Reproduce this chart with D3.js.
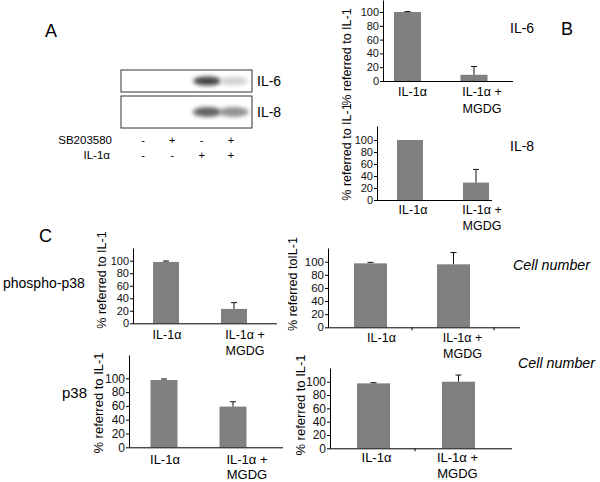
<!DOCTYPE html>
<html>
<head>
<meta charset="utf-8">
<script src="https://cdn.jsdelivr.net/npm/d3@7"></script>
<style>
  body { margin: 0; background: #fff; }
  svg { display: block; font-family: Arial, "Liberation Sans", sans-serif; }
  .axis path, .axis line { stroke: #000; }
  .axis text { font-size: 11px; fill: #111; }
</style>
</head>
<body>
<div id="fig"></div>
<script>
// ---- data ----
var lanes = ["1", "2", "3", "4"];
var sbSigns = ["-", "+", "-", "+"];
var ilSigns = ["-", "-", "+", "+"];
var il6Bands = [0, 0, 0.85, 0.2];
var il8Bands = [0, 0, 0.7, 0.5];

var groups = ["IL-1α", "IL-1α +\nMGDG"];
var yTicks = [0, 20, 40, 60, 80, 100];

var il6Mean = [100, 9];
var il6Err = [0.6, 12];
var il8Mean = [100, 29];
var il8Err = [0, 22];
var pp38Mean = [98, 23];
var pp38Err = [1.5, 10];
var pp38CellMean = [97.5, 96];
var pp38CellErr = [1.5, 18];
var p38Mean = [97.5, 59];
var p38Err = [1.5, 7];
var p38CellMean = [97.5, 100];
var p38CellErr = [1, 10];

var svg = d3.select("#fig").append("svg")
  .attr("width", 600)
  .attr("height", 482);

// blur for the blot bands
svg.append("defs").append("filter")
  .attr("id", "blur")
  .attr("x", "-50%").attr("y", "-50%").attr("width", "200%").attr("height", "200%")
  .append("feGaussianBlur")
  .attr("stdDeviation", 2.2);

// ---- panel A: blot ----
var lane = d3.scalePoint().domain(lanes).range([143, 231]);
var bandX = d3.scalePoint().domain(lanes).range([154, 234]);
var shade = d3.scaleLinear().domain([0, 1]).range(["#ffffff", "#222222"]);

function blot(y0, h, bands, label, bandH, bandW) {
  var g = svg.append("g");
  g.selectAll("ellipse")
    .data(bands)
    .enter()
    .filter(d => d > 0)
    .append("ellipse")
    .attr("cx", (d, i) => bandX(lanes[bands.indexOf(d)]))
    .attr("cy", y0 + h / 2)
    .attr("rx", bandW / 2)
    .attr("ry", bandH / 2)
    .attr("fill", d => shade(d))
    .attr("filter", "url(#blur)");
  g.append("rect")
    .attr("x", 121).attr("y", y0)
    .attr("width", 131).attr("height", h)
    .attr("fill", "none").attr("stroke", "#333").attr("stroke-width", 1);
  g.append("text")
    .attr("x", 257).attr("y", y0 + h / 2 + 5)
    .style("font-size", "14px")
    .text(label);
}
blot(70, 22, il6Bands, "IL-6", 9, 28);
blot(96, 32, il8Bands, "IL-8", 10, 29);

svg.append("text").attr("x", 45).attr("y", 37).style("font-size", "18px").text("A");
svg.append("text").attr("x", 112).attr("y", 144).attr("text-anchor", "end")
  .style("font-size", "11.5px").text("SB203580");
svg.append("text").attr("x", 110).attr("y", 159).attr("text-anchor", "end")
  .style("font-size", "11.5px").text("IL-1α");
svg.selectAll(".sb").data(sbSigns).enter().append("text")
  .attr("x", (d, i) => lane(lanes[i])).attr("y", 144)
  .attr("text-anchor", "middle").style("font-size", "11px").text(d => d);
svg.selectAll(".il").data(ilSigns).enter().append("text")
  .attr("x", (d, i) => lane(lanes[i])).attr("y", 159)
  .attr("text-anchor", "middle").style("font-size", "11px").text(d => d);

// ---- bar chart helper ----
function barChart(o) {
  var g = svg.append("g");
  var y = d3.scaleLinear()
    .domain([0, 100])
    .range([o.y0, o.y100]);
  var yMax = y.invert(o.yTop);
  y.domain([0, yMax]).range([o.y0, o.yTop]);
  var x = d3.scalePoint().domain(groups).range(o.centers);

  g.selectAll("rect")
    .data(o.mean)
    .enter()
    .append("rect")
    .attr("x", (d, i) => x(groups[i]) - o.bw / 2)
    .attr("y", d => y(d))
    .attr("width", o.bw)
    .attr("height", d => y(0) - y(d))
    .attr("fill", "#808080");

  // error bars (upper only)
  var eb = g.selectAll(".err")
    .data(o.mean)
    .enter()
    .append("g")
    .filter((d, i) => o.err[i] > 0);
  eb.append("line")
    .attr("x1", d => x(groups[o.mean.indexOf(d)]))
    .attr("x2", d => x(groups[o.mean.indexOf(d)]))
    .attr("y1", d => y(d))
    .attr("y2", d => y(d + o.err[o.mean.indexOf(d)]))
    .attr("stroke", "#111");
  eb.append("line")
    .attr("x1", d => x(groups[o.mean.indexOf(d)]) - 3)
    .attr("x2", d => x(groups[o.mean.indexOf(d)]) + 3)
    .attr("y1", d => y(d + o.err[o.mean.indexOf(d)]))
    .attr("y2", d => y(d + o.err[o.mean.indexOf(d)]))
    .attr("stroke", "#111");

  var ax = g.append("g")
    .attr("class", "axis")
    .attr("transform", `translate(${o.ax}, 0)`)
    .call(d3.axisLeft(y).tickValues(yTicks).tickSize(3).tickSizeOuter(0).tickPadding(1));
  ax.selectAll("text").style("font-size", o.tickFont + "px");

  // x axis line
  g.append("line")
    .attr("x1", o.ax).attr("x2", o.axEnd)
    .attr("y1", y(0) + 0.5).attr("y2", y(0) + 0.5)
    .attr("stroke", "#000");
  (o.xTicks || []).forEach(function(t) {
    g.append("line")
      .attr("x1", t).attr("x2", t)
      .attr("y1", y(0)).attr("y2", y(0) + 3)
      .attr("stroke", "#000");
  });

  // category labels
  groups.forEach(function(c, i) {
    var lines = c.split("\n");
    var t = g.append("text")
      .attr("x", x(c) + o.labelShift[i])
      .attr("y", o.labelY)
      .attr("text-anchor", "middle")
      .style("font-size", o.labelFont + "px");
    lines.forEach(function(s, k) {
      t.append("tspan")
        .attr("x", x(c) + o.labelShift[i])
        .attr("dy", k === 0 ? 0 : o.lineGap)
        .text(s);
    });
  });

  g.append("text")
    .attr("transform", `translate(${o.yLabel[0]}, ${o.yLabel[1]}) rotate(-90)`)
    .attr("text-anchor", "middle")
    .attr("dy", "0.35em")
    .style("font-size", o.yLabelFont + "px")
    .text(o.yText);
}

// ---- panel B ----
barChart({ mean: il6Mean, err: il6Err, ax: 383, axEnd: 513, y0: 81, y100: 12, yTop: 0,
  centers: [407.5, 474], bw: 27, tickFont: 11, labelY: 96, lineGap: 17, labelFont: 12.5,
  labelShift: [5, 8], yLabel: [347, 57], yLabelFont: 12.5, yText: "% referred to IL-1" });
barChart({ mean: il8Mean, err: il8Err, ax: 377, axEnd: 492, y0: 200, y100: 140, yTop: 126,
  centers: [410, 476], bw: 26, tickFont: 11, labelY: 214, lineGap: 16, labelFont: 12.5,
  labelShift: [3, 6], yLabel: [347, 152], yLabelFont: 12.5, yText: "% referred to IL-1" });
svg.append("text").attr("x", 510).attr("y", 33).style("font-size", "14px").text("IL-6");
svg.append("text").attr("x", 510).attr("y", 151).style("font-size", "14px").text("IL-8");
svg.append("text").attr("x", 561).attr("y", 35).style("font-size", "18px").text("B");

// ---- panel C ----
svg.append("text").attr("x", 39).attr("y", 242).style("font-size", "18px").text("C");
svg.append("text").attr("x", 3).attr("y", 288).style("font-size", "14px").text("phospho-p38");
svg.append("text").attr("x", 62).attr("y", 398).style("font-size", "15px").text("p38");
svg.append("text").attr("x", 513).attr("y", 270).style("font-size", "14.3px")
  .style("font-style", "italic").text("Cell number");
svg.append("text").attr("x", 518).attr("y", 368).style("font-size", "14.3px")
  .style("font-style", "italic").text("Cell number");

barChart({ mean: pp38Mean, err: pp38Err, ax: 133, axEnd: 277, y0: 323.3, y100: 260.7, yTop: 248,
  centers: [166, 234], bw: 26, tickFont: 11, labelY: 339, lineGap: 16, labelFont: 12.5,
  labelShift: [1, 11], yLabel: [102, 280], yLabelFont: 12.5, yText: "% referred to IL-1" });
barChart({ mean: pp38CellMean, err: pp38CellErr, ax: 328, axEnd: 520, y0: 327.3, y100: 261.7, yTop: 248,
  centers: [370.5, 453.5], bw: 33, tickFont: 11.5, labelY: 342, lineGap: 16, labelFont: 12.5,
  labelShift: [11, 9], xTicks: [412, 494], yLabel: [293, 284], yLabelFont: 12.5, yText: "% referred toIL-1" });
barChart({ mean: p38Mean, err: p38Err, ax: 129, axEnd: 283, y0: 447.3, y100: 378.3, yTop: 355,
  centers: [164, 233], bw: 27, tickFont: 12, labelY: 464, lineGap: 14.5, labelFont: 13,
  labelShift: [1, 14], yLabel: [98, 403], yLabelFont: 13, yText: "% referred to IL-1" });
barChart({ mean: p38CellMean, err: p38CellErr, ax: 330, axEnd: 512, y0: 448.3, y100: 381.7, yTop: 368,
  centers: [373.5, 458.5], bw: 33, tickFont: 12, labelY: 462, lineGap: 16, labelFont: 13,
  labelShift: [3, -1], xTicks: [415], yLabel: [300, 405], yLabelFont: 13, yText: "% referred to IL-1" });
</script>
</body>
</html>
